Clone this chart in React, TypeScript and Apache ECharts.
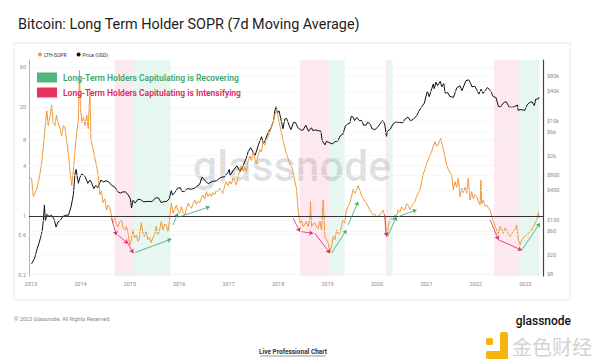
import React, { useEffect, useRef } from "react";
import * as echarts from "echarts";

const TITLE = "Bitcoin: Long Term Holder SOPR (7d Moving Average)";
const SERIES_NAMES = ["LTH-SOPR", "Price (USD)"];

const soprData: [string, number][] = [
  ["2012-12-20", 2.9], ["2013-01-05", 2.8], ["2013-01-18", 1.7], ["2013-02-13", 2.1], ["2013-02-25", 2.6],
  ["2013-03-08", 3.2], ["2013-03-22", 4.5], ["2013-04-01", 6.5], ["2013-04-14", 11], ["2013-04-28", 18],
  ["2013-05-08", 12], ["2013-05-20", 15], ["2013-06-03", 21], ["2013-06-13", 13], ["2013-06-27", 12],
  ["2013-07-08", 16], ["2013-07-20", 13], ["2013-08-03", 11], ["2013-08-15", 9], ["2013-08-28", 12],
  ["2013-09-09", 11.5], ["2013-09-21", 8], ["2013-10-04", 5.5], ["2013-10-16", 3.5], ["2013-10-29", 2.3],
  ["2013-11-10", 3.5], ["2013-11-23", 6.5], ["2013-12-05", 10], ["2013-12-17", 14], ["2013-12-25", 55],
  ["2014-01-01", 20], ["2014-01-12", 13], ["2014-01-24", 15], ["2014-02-05", 12], ["2014-02-17", 16],
  ["2014-02-28", 11], ["2014-03-12", 33], ["2014-03-20", 8], ["2014-04-02", 6.5], ["2014-04-17", 5],
  ["2014-04-30", 4], ["2014-05-12", 3.1], ["2014-05-25", 1.8], ["2014-06-06", 2.0], ["2014-06-16", 1.45],
  ["2014-07-01", 1.6], ["2014-07-13", 1.18], ["2014-07-25", 1.35], ["2014-08-07", 1.25], ["2014-08-19", 1.0],
  ["2014-08-28", 0.83], ["2014-09-12", 0.95], ["2014-09-24", 0.8], ["2014-10-04", 0.74], ["2014-10-19", 0.85],
  ["2014-10-31", 0.9], ["2014-11-12", 0.72], ["2014-11-25", 0.68], ["2014-12-07", 0.75], ["2014-12-19", 0.63],
  ["2015-01-01", 0.45], ["2015-01-14", 0.52], ["2015-01-23", 0.68], ["2015-02-07", 0.55], ["2015-02-19", 0.59],
  ["2015-03-01", 0.5], ["2015-03-10", 0.52], ["2015-03-27", 0.83], ["2015-04-08", 0.62], ["2015-04-20", 0.57],
  ["2015-05-02", 0.66], ["2015-05-14", 0.52], ["2015-05-27", 0.55], ["2015-06-08", 0.48], ["2015-06-20", 0.55],
  ["2015-07-03", 0.59], ["2015-07-15", 0.75], ["2015-07-25", 0.6], ["2015-08-04", 0.62], ["2015-08-22", 0.86],
  ["2015-09-03", 0.68], ["2015-09-16", 0.8], ["2015-09-28", 0.78], ["2015-10-10", 0.65], ["2015-10-22", 0.9],
  ["2015-11-04", 1.42], ["2015-11-16", 1.08], ["2015-11-29", 1.2], ["2015-12-11", 1.35], ["2015-12-23", 1.15],
  ["2016-01-05", 1.08], ["2016-01-17", 1.29], ["2016-01-30", 1.1], ["2016-02-11", 1.03], ["2016-02-23", 1.2],
  ["2016-03-07", 1.42], ["2016-03-19", 1.3], ["2016-04-01", 1.24], ["2016-04-13", 1.4], ["2016-04-25", 1.55],
  ["2016-05-07", 1.38], ["2016-05-19", 1.5], ["2016-06-01", 1.43], ["2016-06-13", 1.65], ["2016-06-23", 1.78],
  ["2016-07-08", 1.6], ["2016-07-20", 1.95], ["2016-08-01", 1.7], ["2016-08-14", 1.85], ["2016-08-26", 1.7],
  ["2016-09-07", 1.9], ["2016-09-20", 1.8], ["2016-10-02", 2.04], ["2016-10-14", 1.95], ["2016-10-27", 2.14],
  ["2016-11-08", 2.0], ["2016-11-18", 1.86], ["2016-12-03", 2.3], ["2016-12-15", 2.57], ["2016-12-27", 2.3],
  ["2017-01-09", 2.6], ["2017-01-21", 2.4], ["2017-02-02", 2.82], ["2017-02-15", 2.6], ["2017-02-27", 2.34],
  ["2017-03-11", 2.9], ["2017-03-24", 3.5], ["2017-04-05", 4.06], ["2017-04-17", 3.4], ["2017-04-30", 3.8],
  ["2017-05-12", 3.38], ["2017-05-24", 4.5], ["2017-06-06", 5.2], ["2017-06-18", 4.6], ["2017-06-30", 5.85],
  ["2017-07-13", 4.8], ["2017-07-25", 4.2], ["2017-08-06", 5.3], ["2017-08-19", 6.2], ["2017-08-31", 5.8],
  ["2017-09-12", 7.7], ["2017-09-25", 7.0], ["2017-10-07", 8.2], ["2017-10-19", 8.8], ["2017-11-01", 10],
  ["2017-11-13", 11.5], ["2017-11-25", 13.3], ["2017-12-08", 16], ["2017-12-20", 19], ["2018-01-02", 15],
  ["2018-01-14", 12], ["2018-01-26", 10], ["2018-02-08", 7.7], ["2018-02-20", 6.5], ["2018-03-04", 5.5],
  ["2018-03-16", 4.9], ["2018-03-29", 4.2], ["2018-04-10", 3.9], ["2018-04-22", 3.38], ["2018-05-05", 2.6],
  ["2018-05-17", 2.1], ["2018-05-29", 1.18], ["2018-06-11", 0.82], ["2018-06-23", 0.9], ["2018-07-05", 0.75],
  ["2018-07-18", 0.8], ["2018-07-30", 0.86], ["2018-08-11", 0.75], ["2018-08-24", 0.9], ["2018-08-29", 1.48],
  ["2018-09-05", 0.75], ["2018-09-17", 0.8], ["2018-09-30", 0.82], ["2018-10-12", 0.74], ["2018-10-24", 0.71],
  ["2018-11-06", 0.86], ["2018-11-18", 0.68], ["2018-11-30", 1.55], ["2018-12-13", 0.57], ["2018-12-25", 0.52],
  ["2019-01-07", 0.47], ["2019-01-19", 0.37], ["2019-01-31", 0.43], ["2019-02-12", 0.57], ["2019-02-25", 0.52],
  ["2019-03-09", 0.68], ["2019-03-21", 0.6], ["2019-04-02", 0.62], ["2019-04-15", 0.75], ["2019-04-27", 0.9],
  ["2019-05-09", 0.82], ["2019-05-21", 1.18], ["2019-06-03", 1.3], ["2019-06-15", 1.42], ["2019-06-27", 1.7],
  ["2019-07-10", 2.1], ["2019-07-22", 1.86], ["2019-08-03", 2.04], ["2019-08-15", 2.3], ["2019-08-28", 2.04],
  ["2019-09-09", 1.78], ["2019-09-22", 1.63], ["2019-10-04", 1.5], ["2019-10-16", 1.42], ["2019-10-28", 1.3],
  ["2019-11-10", 1.18], ["2019-11-22", 1.1], ["2019-12-05", 1.03], ["2019-12-17", 1.05], ["2019-12-29", 0.98],
  ["2020-01-10", 1.0], ["2020-01-23", 1.03], ["2020-02-04", 1.1], ["2020-02-16", 1.18], ["2020-02-29", 0.98],
  ["2020-03-07", 0.62], ["2020-03-16", 0.57], ["2020-04-01", 0.86], ["2020-04-18", 0.94], ["2020-04-30", 0.9],
  ["2020-05-13", 1.03], ["2020-05-25", 0.98], ["2020-06-06", 1.18], ["2020-06-19", 1.1], ["2020-07-01", 1.29],
  ["2020-07-13", 1.2], ["2020-07-26", 1.18], ["2020-08-07", 1.4], ["2020-08-19", 1.35], ["2020-09-01", 1.2],
  ["2020-09-13", 1.29], ["2020-09-25", 1.4], ["2020-10-08", 1.48], ["2020-10-20", 1.7], ["2020-11-01", 1.86],
  ["2020-11-14", 2.04], ["2020-11-26", 2.5], ["2020-12-08", 3.1], ["2020-12-21", 3.6], ["2021-01-02", 4.2],
  ["2021-01-14", 4.6], ["2021-01-27", 5.3], ["2021-02-08", 5.8], ["2021-02-20", 6.8], ["2021-03-05", 7.7],
  ["2021-03-17", 6.8], ["2021-03-29", 7.0], ["2021-04-16", 8.5], ["2021-04-26", 7.2], ["2021-05-06", 6.4],
  ["2021-05-19", 5.0], ["2021-05-31", 4.06], ["2021-06-12", 3.6], ["2021-06-25", 3.3], ["2021-07-07", 3.08],
  ["2021-07-19", 2.04], ["2021-08-01", 2.57], ["2021-08-13", 2.2], ["2021-08-25", 2.82], ["2021-09-07", 1.7],
  ["2021-09-19", 2.14], ["2021-10-01", 1.9], ["2021-10-14", 2.2], ["2021-10-26", 1.86], ["2021-11-07", 2.82],
  ["2021-11-20", 1.55], ["2021-12-02", 1.95], ["2021-12-14", 1.6], ["2021-12-27", 1.8], ["2022-01-08", 1.7],
  ["2022-01-20", 1.5], ["2022-02-02", 1.35], ["2022-02-08", 2.68], ["2022-02-14", 1.4], ["2022-02-26", 1.55],
  ["2022-03-11", 1.3], ["2022-03-23", 1.35], ["2022-04-04", 1.25], ["2022-04-17", 1.18], ["2022-04-29", 1.0],
  ["2022-05-11", 0.86], ["2022-05-24", 0.75], ["2022-06-05", 0.68], ["2022-06-17", 0.6], ["2022-06-30", 0.75],
  ["2022-07-12", 0.7], ["2022-07-24", 0.62], ["2022-08-06", 0.72], ["2022-08-18", 0.68], ["2022-08-31", 0.6],
  ["2022-09-12", 0.57], ["2022-09-24", 0.62], ["2022-10-06", 0.65], ["2022-10-19", 0.7], ["2022-10-31", 0.78],
  ["2022-11-12", 0.52], ["2022-11-25", 0.45], ["2022-12-07", 0.52], ["2022-12-19", 0.55], ["2023-01-01", 0.57],
  ["2023-01-13", 0.6], ["2023-01-25", 0.62], ["2023-02-07", 0.66], ["2023-02-19", 0.68], ["2023-03-03", 0.75],
  ["2023-03-16", 0.82], ["2023-03-28", 0.9], ["2023-04-09", 1.1], ["2023-04-16", 0.95],
];

const priceData: [string, number][] = [
  ["2013-01-05", 13], ["2013-01-28", 17], ["2013-02-15", 26], ["2013-03-01", 34], ["2013-03-15", 47],
  ["2013-03-25", 62], ["2013-04-01", 90], ["2013-04-10", 200], ["2013-04-17", 95], ["2013-04-28", 130],
  ["2013-05-15", 118], ["2013-06-01", 125], ["2013-06-20", 105], ["2013-07-05", 72], ["2013-07-20", 92],
  ["2013-08-05", 98], ["2013-08-25", 118], ["2013-09-15", 125], ["2013-10-05", 125], ["2013-10-25", 190],
  ["2013-11-10", 330], ["2013-11-22", 850], ["2013-11-30", 1050], ["2013-12-17", 550], ["2013-12-28", 720],
  ["2014-01-10", 850], ["2014-01-25", 800], ["2014-02-05", 750], ["2014-02-25", 550], ["2014-03-12", 640],
  ["2014-03-25", 560], ["2014-04-10", 430], ["2014-04-25", 500], ["2014-05-10", 450], ["2014-06-01", 640],
  ["2014-06-20", 590], ["2014-07-10", 620], ["2014-08-01", 580], ["2014-08-20", 500], ["2014-09-10", 470],
  ["2014-09-25", 410], ["2014-10-10", 360], ["2014-10-25", 350], ["2014-11-10", 370], ["2014-12-01", 370],
  ["2014-12-20", 320], ["2015-01-05", 270], ["2015-01-14", 175], ["2015-01-25", 250], ["2015-02-10", 220],
  ["2015-03-01", 260], ["2015-03-20", 260], ["2015-04-10", 235], ["2015-05-01", 235], ["2015-05-25", 238],
  ["2015-06-15", 235], ["2015-07-10", 280], ["2015-08-01", 280], ["2015-08-20", 225], ["2015-09-10", 235],
  ["2015-10-01", 238], ["2015-10-20", 270], ["2015-11-04", 400], ["2015-11-12", 320], ["2015-12-01", 360],
  ["2015-12-20", 440], ["2016-01-10", 450], ["2016-01-20", 380], ["2016-02-10", 380], ["2016-03-01", 430],
  ["2016-04-01", 420], ["2016-05-01", 450], ["2016-06-01", 530], ["2016-06-17", 730], ["2016-07-01", 670],
  ["2016-08-02", 540], ["2016-09-01", 600], ["2016-10-01", 615], ["2016-11-01", 720], ["2016-12-01", 750],
  ["2016-12-25", 900], ["2017-01-05", 1050], ["2017-01-12", 800], ["2017-02-01", 980], ["2017-03-03", 1250],
  ["2017-03-25", 950], ["2017-04-15", 1200], ["2017-05-10", 1750], ["2017-05-25", 2400], ["2017-06-12", 2900],
  ["2017-07-15", 2000], ["2017-08-10", 3400], ["2017-09-01", 4800], ["2017-09-15", 3500], ["2017-10-01", 4300],
  ["2017-10-20", 5900], ["2017-11-10", 7300], ["2017-11-28", 10000], ["2017-12-08", 16000], ["2017-12-17", 19500],
  ["2017-12-27", 14500], ["2018-01-08", 16000], ["2018-01-20", 11500], ["2018-02-06", 7000], ["2018-02-20", 11000],
  ["2018-03-05", 11300], ["2018-03-25", 8000], ["2018-04-06", 6700], ["2018-04-25", 9300], ["2018-05-10", 9300],
  ["2018-05-28", 7300], ["2018-06-20", 6500], ["2018-07-05", 6600], ["2018-07-25", 8200], ["2018-08-14", 6200],
  ["2018-09-05", 7300], ["2018-09-15", 6400], ["2018-10-01", 6600], ["2018-10-25", 6400], ["2018-11-14", 6200],
  ["2018-11-20", 4500], ["2018-11-25", 3900], ["2018-12-14", 3300], ["2018-12-25", 3900], ["2019-01-10", 3700],
  ["2019-02-05", 3450], ["2019-02-25", 3800], ["2019-03-20", 4000], ["2019-04-05", 5000], ["2019-04-25", 5400],
  ["2019-05-14", 8000], ["2019-05-30", 8700], ["2019-06-15", 9000], ["2019-06-26", 12500], ["2019-07-10", 12000],
  ["2019-07-20", 10200], ["2019-08-06", 11800], ["2019-08-25", 10100], ["2019-09-10", 10300], ["2019-09-25", 8200],
  ["2019-10-15", 8300], ["2019-10-26", 9500], ["2019-11-15", 8500], ["2019-11-25", 7000], ["2019-12-17", 6700],
  ["2020-01-05", 7400], ["2020-02-12", 10300], ["2020-02-28", 8700], ["2020-03-12", 4900], ["2020-03-20", 6200],
  ["2020-04-10", 6900], ["2020-05-01", 8800], ["2020-05-20", 9500], ["2020-06-15", 9400], ["2020-07-10", 9200],
  ["2020-07-28", 11000], ["2020-08-18", 12000], ["2020-09-05", 10200], ["2020-09-25", 10700], ["2020-10-21", 12800],
  ["2020-11-05", 15500], ["2020-11-25", 19000], ["2020-12-17", 23000], ["2021-01-08", 40000], ["2021-01-22", 31000],
  ["2021-02-10", 45000], ["2021-02-21", 56000], ["2021-02-28", 45000], ["2021-03-13", 61000], ["2021-03-25", 52000],
  ["2021-04-14", 63500], ["2021-04-25", 49000], ["2021-05-10", 57000], ["2021-05-19", 37000], ["2021-06-10", 37000],
  ["2021-06-22", 31500], ["2021-07-20", 30000], ["2021-08-14", 47000], ["2021-09-06", 51500], ["2021-09-21", 41000],
  ["2021-10-20", 65000], ["2021-11-10", 68000], ["2021-11-25", 57000], ["2021-12-04", 49000], ["2021-12-25", 50500],
  ["2022-01-10", 42000], ["2022-01-24", 35000], ["2022-02-10", 44000], ["2022-02-24", 36000], ["2022-03-28", 47500],
  ["2022-04-20", 41000], ["2022-05-10", 31000], ["2022-05-30", 30000], ["2022-06-18", 19500], ["2022-07-01", 19300],
  ["2022-07-30", 24000], ["2022-08-15", 24300], ["2022-09-06", 19000], ["2022-09-20", 19000], ["2022-10-10", 19200],
  ["2022-11-05", 21000], ["2022-11-10", 16500], ["2022-12-01", 17000], ["2022-12-30", 16500], ["2023-01-15", 21000],
  ["2023-02-01", 23500], ["2023-02-20", 24500], ["2023-03-10", 20500], ["2023-03-20", 27500], ["2023-04-10", 28000],
  ["2023-04-14", 30200],
];

const soprTicks = [0.2, 0.6, 1, 4, 8, 20, 60];
const priceTicks = [8, 20, 60, 100, 400, 800, 2000, 6000, 10000, 40000, 80000];
const priceTickLabels = ["$8", "$20", "$60", "$100", "$400", "$800", "$2k", "$6k", "$10k", "$40k", "$80k"];

// [start, end, kind]
const bands: [string, string, string][] = [
  ["2014-09-12", "2015-01-26", "intens"], ["2015-01-26", "2015-10-29", "recov"],
  ["2018-06-11", "2019-01-19", "intens"], ["2019-01-19", "2019-05-09", "recov"],
  ["2020-03-08", "2020-03-26", "intens"], ["2020-03-26", "2020-04-27", "recov"],
  ["2022-05-16", "2022-11-24", "intens"], ["2022-11-24", "2023-04-16", "recov"],
];

// [startDate, startVal, endDate, endVal, kind]
const arrows: [string, number, string, number, string][] = [
  ["2014-08-19", 0.94, "2014-09-24", 0.59, "intens"],
  ["2014-10-06", 0.59, "2014-12-19", 0.47, "intens"],
  ["2014-12-19", 0.47, "2015-01-26", 0.36, "intens"],
  ["2015-02-07", 0.365, "2015-11-04", 0.53, "recov"],
  ["2015-11-16", 0.78, "2015-12-23", 1.08, "recov"],
  ["2016-01-05", 0.98, "2016-08-14", 1.29, "recov"],
  ["2018-04-22", 0.94, "2018-06-11", 0.65, "intens"],
  ["2018-06-23", 0.65, "2018-09-17", 0.62, "intens"],
  ["2018-09-30", 0.62, "2019-01-19", 0.36, "intens"],
  ["2019-01-31", 0.36, "2019-05-21", 0.68, "recov"],
  ["2019-06-03", 0.78, "2019-08-15", 1.48, "recov"],
  ["2020-02-29", 1.03, "2020-03-12", 0.57, "intens"],
  ["2020-03-20", 0.57, "2020-05-25", 0.98, "recov"],
  ["2020-06-06", 0.98, "2020-10-20", 1.18, "recov"],
  ["2022-04-17", 0.9, "2022-06-17", 0.52, "intens"],
  ["2022-06-17", 0.52, "2022-12-07", 0.39, "intens"],
  ["2022-12-07", 0.39, "2023-04-20", 0.82, "recov"],
];

const LEGEND_RECOVER = "Long-Term Holders Capitulating is Recovering";
const LEGEND_INTENS = "Long-Term Holders Capitulating is Intensifying";

const ORANGE = "#f0993a";
const GREEN = "#3aa76d";
const PINK = "#e0245e";
const YEAR = 365.25 * 24 * 3600 * 1000;

export default function App() {
  const ref = useRef<HTMLDivElement>(null);
  useEffect(() => {
    if (!ref.current) return;
    const chart = echarts.init(ref.current, undefined, { renderer: "svg" });
    const labelStyle = { fontSize: 5.5, color: "#8a8a8a", fontFamily: "Roboto" };
    const soprLines = soprTicks.map((v) => ({
      yAxis: v,
      lineStyle: v === 1 ? { color: "#333", width: 1.1, type: "solid" } : { color: "#efefef", width: 0.6, type: "solid" },
      label: { show: true, position: "start", formatter: String(v), distance: 3, ...labelStyle },
    }));
    const priceLines = priceTicks.map((v, i) => ({
      yAxis: v,
      lineStyle: { color: "#f2f2f2", width: 0.6, type: "solid" },
      label: { show: true, position: "end", formatter: priceTickLabels[i], distance: 4, ...labelStyle },
    }));
    const arrowLines = arrows.map(([d1, v1, d2, v2, k]) => [
      { coord: [d1, v1], symbol: "none", lineStyle: { color: k === "recov" ? GREEN : PINK, width: 0.8, type: "solid" } },
      { coord: [d2, v2], symbol: "arrow", symbolSize: 4 },
    ]);
    const option: any = {
      animation: false,
      backgroundColor: "#ffffff",
      textStyle: { fontFamily: "Roboto" },
      title: {
        text: TITLE,
        left: 13,
        top: 12,
        textStyle: { fontSize: 14.4, fontWeight: "normal", color: "#1d1d1d", fontFamily: "Roboto" },
      },
      legend: {
        data: SERIES_NAMES,
        left: 33,
        top: 47,
        icon: "circle",
        itemWidth: 4,
        itemHeight: 4,
        itemGap: 10,
        textStyle: { fontSize: 5, color: "#333", padding: [0, 0, 0, -3] },
      },
      grid: { left: 29, right: 57, top: 60, bottom: 84 },
      xAxis: {
        type: "time",
        min: "2012-12-17",
        max: "2023-05-13",
        minInterval: YEAR,
        maxInterval: YEAR,
        axisLine: { show: false },
        axisTick: { show: false },
        splitLine: { show: false },
        axisLabel: { formatter: "{yyyy}", fontSize: 5.5, color: "#8a8a8a", margin: 5 },
      },
      yAxis: [
        {
          type: "log",
          min: 0.192,
          max: 72.7,
          axisLine: { show: true, lineStyle: { color: "#f0a64f", width: 1 } },
          axisTick: { show: false },
          axisLabel: { show: false },
          splitLine: { show: false },
        },
        {
          type: "log",
          min: 7.39,
          max: 170800,
          position: "right",
          axisLine: { show: true, lineStyle: { color: "#444", width: 1.2 } },
          axisTick: { show: false },
          axisLabel: { show: false },
          splitLine: { show: false },
        },
      ],
      series: [
        {
          name: "Price (USD)",
          type: "line",
          yAxisIndex: 1,
          data: priceData,
          symbol: "none",
          color: "#111",
          lineStyle: { color: "#111", width: 1 },
          z: 3,
          markLine: { silent: true, symbol: "none", label: { show: false }, data: priceLines, animation: false },
        },
        {
          name: "LTH-SOPR",
          type: "line",
          yAxisIndex: 0,
          data: soprData,
          symbol: "none",
          color: ORANGE,
          lineStyle: { color: ORANGE, width: 1 },
          z: 4,
          markArea: {
            silent: true,
            data: bands.map(([s, e, k]) => [
              { xAxis: s, itemStyle: { color: k === "recov" ? "rgba(90,200,150,0.15)" : "rgba(240,110,160,0.16)" } },
              { xAxis: e },
            ]),
          },
          markLine: {
            silent: true,
            symbol: "none",
            label: { show: false },
            data: [...soprLines, ...arrowLines],
            animation: false,
          },
        },
      ],
      graphic: [
        { type: "rect", z: -10, shape: { x: 14, y: 43, width: 556, height: 257 }, style: { fill: "none", stroke: "#e8e8e8", lineWidth: 1 } },
        {
          type: "text", z: 1, x: 292, y: 166,
          style: { text: "glassnode", fontSize: 43, fontWeight: 500, fontFamily: "Roboto", fill: "rgba(0,0,0,0.13)", align: "center", verticalAlign: "middle" },
        },
        { type: "rect", z: 10, shape: { x: 37, y: 72.5, width: 20, height: 10 }, style: { fill: "#4fb77e" } },
        { type: "text", z: 10, x: 63, y: 78, style: { text: LEGEND_RECOVER, fontSize: 8.5, fontWeight: 600, fontFamily: "Roboto", fill: GREEN, verticalAlign: "middle" } },
        { type: "rect", z: 10, shape: { x: 37, y: 87.5, width: 20, height: 10 }, style: { fill: "#e8335f" } },
        { type: "text", z: 10, x: 63, y: 93, style: { text: LEGEND_INTENS, fontSize: 8.5, fontWeight: 600, fontFamily: "Roboto", fill: PINK, verticalAlign: "middle" } },
        { type: "text", x: 14, y: 319, style: { text: "© 2023 Glassnode. All Rights Reserved.", fontSize: 5.5, fontFamily: "Roboto", fill: "#888", verticalAlign: "middle" } },
        { type: "text", x: 571, y: 321, style: { text: "glassnode", fontSize: 12, fontWeight: 500, fontFamily: "Roboto", fill: "#111", align: "right", verticalAlign: "middle" } },
        { type: "text", x: 293, y: 352, style: { text: "Live Professional Chart", fontSize: 6.5, fontWeight: "bold", fontFamily: "Roboto", fill: "#333", align: "center", verticalAlign: "middle" } },
        { type: "line", shape: { x1: 260, y1: 356, x2: 326, y2: 356 }, style: { stroke: "#333", lineWidth: 0.5 } },
        { type: "rect", shape: { x: 486, y: 338, width: 7, height: 7, r: 1.5 }, style: { fill: "#f5b50f" } },
        { type: "rect", shape: { x: 500, y: 332, width: 8, height: 27, r: 2 }, style: { fill: "#f5b50f" } },
        { type: "rect", shape: { x: 486, y: 351, width: 22, height: 8, r: 2 }, style: { fill: "#f5b50f" } },
        { type: "text", x: 512, y: 346, style: { text: "金色财经", fontSize: 20, fontFamily: "Noto Sans CJK SC", fill: "#d2d2d2", verticalAlign: "middle" } },
      ],
    };
    chart.setOption(option);
    return () => chart.dispose();
  }, []);
  return <div ref={ref} style={{ position: "fixed", left: 0, top: 0, width: 600, height: 360 }} />;
}
